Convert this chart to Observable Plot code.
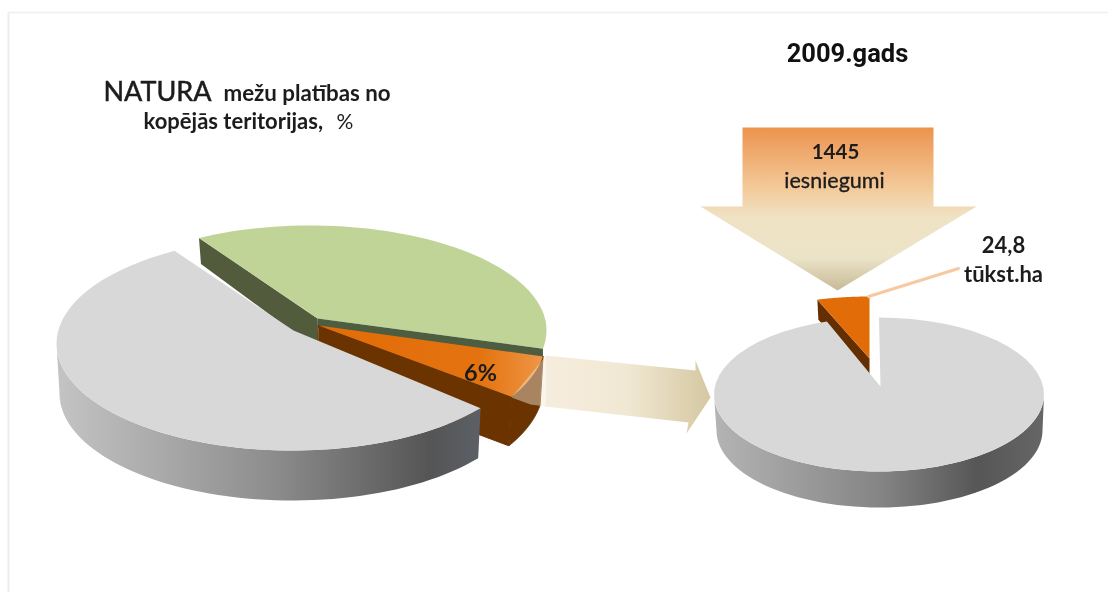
<!DOCTYPE html>
<html lang="lv">
<head>
<meta charset="utf-8">
<title>NATURA mežu platības</title>
<script src="https://cdn.jsdelivr.net/npm/d3@7"></script>
<script src="https://cdn.jsdelivr.net/npm/@observablehq/plot@0.6"></script>
<style>
  html, body { margin: 0; padding: 0; background: #fff; overflow: hidden; }
  svg { display: block; filter: blur(0.4px); }
</style>
</head>
<body>
<div id="chart"></div>
<script>
// ---- Data ----
const shareCategories = ["NATURA meži", "citas NATURA platības", "pārējā teritorija"];
const shareValues = [6, 35.6, 58.4];           // % (only the 6 % is printed; others estimated)
const areaCategories = ["iesniegumi", "pārējās platības"];
const areaValues = [24.8, 460];                // tūkst.ha (only 24,8 is printed; other estimated)
const applications = 1445;
const yearLabel = "2009.gads";

// ---- Layout of the drawing (pixels of the 1108x592 frame, degrees clockwise from east) ----
const leftStart = 241.8;                      // where the green slice begins
const L = {
  green:  {cx: 310, cy: 330, rx: 236, ry: 105, apex: [317, 318]},
  orange: {cx: 310, cy: 336, rx: 236, ry: 115, apex: [318, 325]},
  gray:   {cx: 292, cy: 343, rx: 236, ry: 107, apex: [293, 330], trimStart: 5.6, trimEnd: 1.8},
  grayLow:{cx: 292, cy: 393, rx: 233, ry: 107}
};
const rightStart = 270;
const R = {
  orange: {cx: 869, cy: 358, rx: 165, ry: 62, apex: [869, 358]},
  gray:   {cx: 878.5, cy: 394, rx: 165, ry: 77, apex: [880, 386]},
  grayLow:{cx: 879, cy: 430, rx: 163, ry: 77}
};
const arrowRight = [[545,355],[695,370],[695,360],[710,397],[686,433],[688,422],[545,406]];
const arrowDown = [[742,127],[933,127],[933,206],[976,206],[837,290],[700,206],[742,206]];
const wedge = [[545,356],[511,397],[530,404],[545,406]];
const leader = [[868,296],[958,268]];

// ---- Geometry helpers ----
const rad = (d) => d * Math.PI / 180;
const pt = (e, a) => [e.cx + e.rx * Math.cos(rad(a)), e.cy + e.ry * Math.sin(rad(a))];
const arc = (e, a0, a1) => d3.range(0, 61).map((i) => pt(e, a0 + (a1 - a0) * i / 60));
const shift = (p, dx, dy) => [p[0] + dx, p[1] + dy];

// Sweep of each slice comes from the values
const toDeg = (v, vs) => v / d3.sum(vs) * 360;
const [oV, gV, rV] = shareValues;
const gA0 = leftStart, gA1 = gA0 + toDeg(gV, shareValues);
const oA0 = gA1 - 360, oA1 = oA0 + toDeg(oV, shareValues);
const rA0 = oA1 + L.gray.trimStart, rA1 = oA1 + toDeg(rV, shareValues) - L.gray.trimEnd;

const rOrangeSweep = toDeg(areaValues[0], areaValues);
const rO0 = rightStart - rOrangeSweep, rO1 = rightStart;
const rG0 = rightStart, rG1 = rO0 + 360;

// ---- Polygons ----
const wedgeTop = (e, a0, a1) => [e.apex, ...arc(e, a0, a1)];
const band = (eTop, eLow, a0, a1) => [...arc(eTop, a0, a1), ...arc(eLow, a0, a1).reverse()];

const greenEnd = pt(L.green, gA1), greenStart = pt(L.green, gA0);
const orangeEnd = pt(L.orange, oA1);
const orangeLow = {...L.orange, cy: L.orange.cy + 49, rx: L.orange.rx - 3};
const rOStart = pt(R.orange, rO0);

const poly = (points, options) =>
  Plot.line(points, {x: (d) => d[0], y: (d) => d[1], curve: "linear-closed", stroke: "none", ...options});

const defs = () => {
  const g = document.createElementNS("http://www.w3.org/2000/svg", "g");
  g.innerHTML = `<defs>
    <linearGradient id="wall" x1="0" x2="1" y1="0" y2="0">
      <stop offset="0" stop-color="#c4c4c4"/><stop offset="0.5" stop-color="#8e8e8e"/>
      <stop offset="0.88" stop-color="#555555"/><stop offset="1" stop-color="#5c6066"/>
    </linearGradient>
    <linearGradient id="wallR" x1="0" x2="1" y1="0" y2="0">
      <stop offset="0" stop-color="#b4b4b4"/><stop offset="0.5" stop-color="#858585"/>
      <stop offset="0.8" stop-color="#565656"/><stop offset="1" stop-color="#666666"/>
    </linearGradient>
    <linearGradient id="orangeTop" x1="0" x2="1" y1="0" y2="0">
      <stop offset="0" stop-color="#e26c08"/><stop offset="0.72" stop-color="#e4730f"/>
      <stop offset="1" stop-color="#ee9647"/>
    </linearGradient>
    <linearGradient id="arrowH" x1="0" x2="1" y1="0" y2="0">
      <stop offset="0" stop-color="#f6ecdd"/><stop offset="0.5" stop-color="#f0e8d3"/>
      <stop offset="1" stop-color="#d5c7a1"/>
    </linearGradient>
    <linearGradient id="arrowV" x1="0" x2="0" y1="0" y2="1">
      <stop offset="0" stop-color="#ec934e"/><stop offset="0.38" stop-color="#f3cb9b"/>
      <stop offset="0.55" stop-color="#f0e2c4"/><stop offset="0.8" stop-color="#ebe3c8"/>
      <stop offset="1" stop-color="#c7ba95"/>
    </linearGradient>
  </defs>`;
  return g;
};

const sans = "Lato, 'Noto Sans', sans-serif";
const label = (text, x, y, size, weight, {anchor = "middle", family = sans, fill = "#1c1c1c", thicken = 0} = {}) =>
  Plot.text([text], {x: () => x, y: () => y, text: (d) => d, fontSize: size, fontWeight: weight,
    textAnchor: anchor, lineAnchor: "bottom", fontFamily: family, fill,
    stroke: thicken ? fill : "none", strokeWidth: thicken});

const brown = {fill: "#6b3300", stroke: "#6b3300", strokeWidth: 1};

const plot = Plot.plot({
  width: 1108, height: 592, margin: 0,
  x: {domain: [0, 1108], range: [0, 1108], axis: null},
  y: {domain: [0, 592], range: [0, 592], axis: null},
  marks: [
    defs,
    // faint frame of the slide
    Plot.ruleY([12], {x1: 8, x2: 1108, stroke: "#f0eeea", strokeWidth: 1.5}),
    Plot.ruleX([8], {y1: 12, y2: 592, stroke: "#f0eeea", strokeWidth: 2}),

    // ---- left pie ----
    poly([greenStart, L.green.apex, shift(L.green.apex, 1, 32), shift(greenStart, 2, 26)], {fill: "#535b3d"}),
    poly(wedgeTop(L.green, gA0, gA1), {fill: "#c0d498"}),
    poly([L.green.apex, greenEnd, shift(greenEnd, 0, 9), shift(L.green.apex, 0, 9)], {fill: "#4d5e40"}),

    poly(band(L.orange, orangeLow, oA0, oA1), brown),
    poly([L.orange.apex, orangeEnd, shift(orangeEnd, -3, 49), shift(L.orange.apex, 0, 49)], brown),
    poly(wedgeTop(L.orange, oA0, oA1), {fill: "url(#orangeTop)"}),

    poly(band(L.gray, L.grayLow, rA0, 180), {fill: "url(#wall)"}),
    poly(wedgeTop(L.gray, rA0, rA1), {fill: "#d8d8d8"}),

    // arrow between the pies
    poly(wedge, {fill: "#f4e8d4", fillOpacity: 0.45}),
    poly(arrowRight, {fill: "url(#arrowH)"}),

    // ---- right pie ----
    poly([rOStart, R.orange.apex, shift(R.orange.apex, 0, 18), shift(rOStart, 1, 20)], {fill: "#642f00"}),
    poly(wedgeTop(R.orange, rO0, rO1), {fill: "#e26c08"}),
    poly(band(R.gray, R.grayLow, 0, 180), {fill: "url(#wallR)"}),
    poly(wedgeTop(R.gray, rG0, rG1), {fill: "#d8d8d8"}),

    poly(arrowDown, {fill: "url(#arrowV)"}),
    Plot.line(leader, {x: (d) => d[0], y: (d) => d[1], stroke: "#f6c9a0", strokeWidth: 3}),

    // ---- texts ----
    label("NATURA", 103, 100, 27, 400, {anchor: "start", thicken: 0.5}),
    label("mežu platības no", 223, 100, 22.3, 700, {anchor: "start"}),
    label("kopējās teritorijas,", 143, 128, 22, 700, {anchor: "start"}),
    label("%", 336, 128, 21, 400, {anchor: "start"}),
    label(`${shareValues[0]}%`, 480, 380, 23.5, 700),
    label(yearLabel, 847, 61, 25.5, 700, {family: "Roboto, sans-serif", fill: "#111"}),
    label(String(applications), 835, 158, 20.5, 700),
    label(areaCategories[0], 834, 187, 21.5, 400, {thicken: 0.35}),
    label(String(areaValues[0]).replace(".", ","), 1003, 252, 22, 700),
    label("tūkst.ha", 1003, 281, 22, 700)
  ]
});
document.getElementById("chart").append(plot);
</script>
</body>
</html>
